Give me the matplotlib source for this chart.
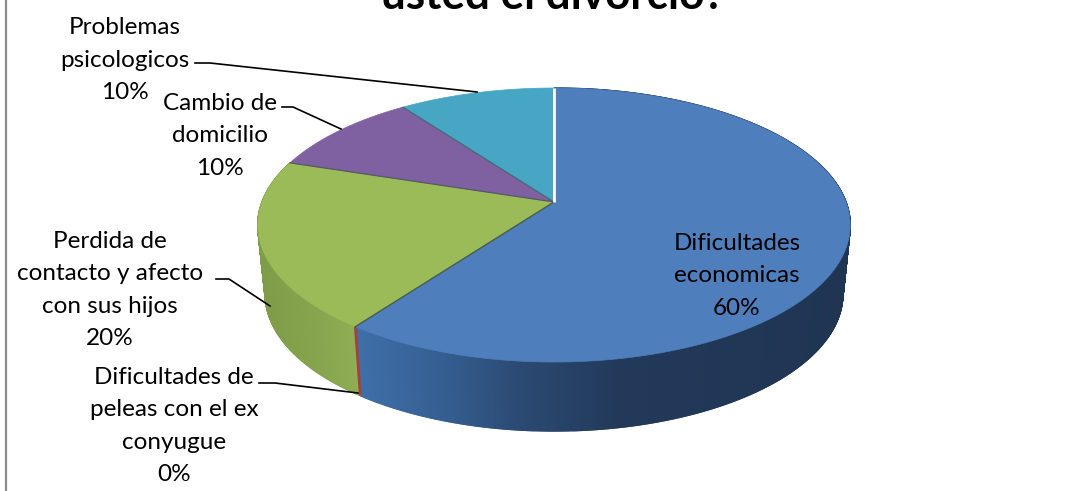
"""
Pie chart (3D look) of the difficulties after divorce
"""

import numpy as np
import matplotlib
matplotlib.use('Agg')
import matplotlib.pyplot as plt
from matplotlib.colors import to_rgb
from matplotlib.patches import Polygon

plt.rcParams['font.family'] = ['Lato', 'DejaVu Sans']

categories = ['Dificultades\neconomicas', 'Dificultades de\npeleas con el ex\nconyugue',
              'Perdida de\ncontacto y afecto\ncon sus hijos', 'Cambio de\ndomicilio',
              'Problemas\npsicologicos']
values = [60, 0, 20, 10, 10]
title_text = 'usted el divorcio?'

top_colors = ['#4e7fbc', '#a5403d', '#9bbb59', '#7f60a0', '#46a6c3']

# pie geometry in image pixels
CX, APEX_Y = 554, 202
RADIUS = 292
PERSP = 0.168
TILT = -99.2
DEPTH = 69
BOTTOM_SCALE = 0.975


def rim(theta):
    """Project clockwise-from-top angle (radians) onto the tilted disc"""
    u, v = np.sin(theta), np.cos(theta)
    w = 1 + PERSP * v
    return CX + RADIUS * u / w, (TILT * v + APEX_Y) / w


def rim_low(theta):
    """Same rim for the bottom of the wall, a bit narrower because of the perspective"""
    x, y = rim(theta)
    return CX + (x - CX) * BOTTOM_SCALE, y + DEPTH


def blend(stops, x):
    xs = [s[0] for s in stops]
    rgb = np.array([to_rgb(s[1]) for s in stops])
    return tuple(np.interp(x, xs, rgb[:, i]) for i in range(3))


blue_side = [(357, '#3f6fa8'), (440, '#355f92'), (520, '#2b4a72'), (620, '#22395a'), (850, '#1f3552')]
green_side = [(260, '#7f9d48'), (310, '#86a44d'), (357, '#90ae55')]

fig = plt.figure(figsize=(10.91, 4.91), dpi=100)
ax = fig.add_axes([0, 0, 1, 1])
ax.set_xlim(0, 1091)
ax.set_ylim(491, 0)
ax.axis('off')

# left frame line of the original picture
ax.plot([6, 6], [0, 491], color='#8c8c8c', lw=1.6, solid_capstyle='butt')

total = sum(values)
edges = np.cumsum([0] + values) / total * 2 * np.pi

# side wall, only the front part shows
for i, val in enumerate(values):
    if val == 0:
        continue
    angles = np.linspace(edges[i], edges[i + 1], val * 20 + 2)
    for a0, a1 in zip(angles[:-1], angles[1:]):
        x0, y0 = rim(a0)
        x1, y1 = rim(a1)
        xl0, yl0 = rim_low(a0)
        xl1, yl1 = rim_low(a1)
        xm = (x0 + x1) / 2
        if i == 0:
            col = blend(blue_side, xm)
        elif i == 2:
            col = blend(green_side, xm)
        else:
            continue
        ax.add_patch(Polygon([(x0, y0), (x1, y1), (xl1, yl1), (xl0, yl0)],
                             facecolor=col, edgecolor=col, lw=1.0, zorder=2))

# the 0% slice is only a thin red strip on the wall
x_red, y_red = rim(edges[1])
x_low, y_low = rim_low(edges[1])
ax.plot([x_red, x_low], [y_red, y_low], color=top_colors[1], lw=2, zorder=3,
        solid_capstyle='butt')

# top face
for i, val in enumerate(values):
    if val == 0:
        continue
    angles = np.linspace(edges[i], edges[i + 1], val * 8 + 2)
    xs, ys = rim(angles)
    pts = [(CX, APEX_Y)] + list(zip(xs, ys))
    ax.add_patch(Polygon(pts, facecolor=top_colors[i], edgecolor=top_colors[i], lw=0.5, zorder=4))

# seams between the slices
for i in range(1, len(values)):
    x, y = rim(edges[i])
    ax.plot([CX, x], [APEX_Y, y], color='#3f5550', lw=0.9, alpha=0.7, zorder=5)
ax.plot([CX, CX], [APEX_Y, 88], color='white', lw=2, zorder=6, solid_capstyle='butt')

# labels and their leader lines
label_pos = [(737, 276), (174, 426), (110, 290), (220, 136), (125, 60)]
leaders = [None,
           [(259, 383), (275, 383), (358, 393)],
           [(216, 279), (229, 279), (270, 306)],
           [(282, 107), (293, 107), (341, 129)],
           [(195, 63), (210, 63), (477, 92)]]
for i, name in enumerate(categories):
    pct = round(values[i] / total * 100)
    ax.text(label_pos[i][0], label_pos[i][1], f'{name}\n{pct}%', ha='center', va='center',
            fontsize=17.5, linespacing=1.67, color='black', zorder=8)
    if leaders[i]:
        ax.plot(*zip(*leaders[i]), color='black', lw=1.2, zorder=7)

ax.text(553, 9, title_text, ha='center', va='baseline', fontsize=31.7, fontweight='bold',
        color='black', zorder=8, clip_on=False)

plt.savefig('out.png', dpi=100)
